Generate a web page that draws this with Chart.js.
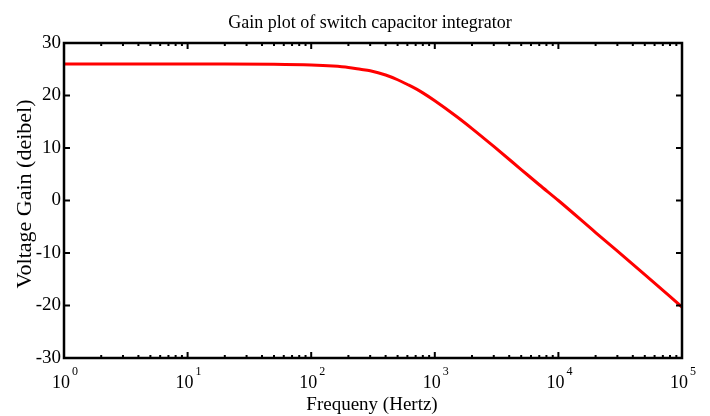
<!DOCTYPE html>
<html>
<head>
<meta charset="utf-8">
<script src="https://cdn.jsdelivr.net/npm/chart.js@4/dist/chart.umd.min.js"></script>
<style>
  body { margin: 0; background: #fff; }
</style>
</head>
<body>
<canvas id="gain" width="710" height="416"></canvas>
<script>
// values
const freq = [1, 2, 5, 10, 20, 50, 100, 150, 200, 250, 300, 400, 500, 600, 700, 800,
              1000, 1500, 2000, 3000, 5000, 7000, 10000, 20000, 50000, 100000];
const gain = [26, 26, 26, 26, 26, 25.95, 25.8, 25.6, 25.35, 25.0, 24.7, 23.9, 23.0, 22.1, 21.3, 20.5,
              19.0, 16.0, 13.7, 10.3, 5.9, 3.0, 0.0, -6.1, -14.1, -20.3];
const yTicks = [-30, -20, -10, 0, 10, 20, 30];
const xDecades = [0, 1, 2, 3, 4, 5];

const serif = "'Liberation Serif', 'Times New Roman', serif";

const frame = {
  id: 'frame',
  afterDraw(chart) {
    const ctx = chart.ctx;
    const a = chart.chartArea;
    const xs = chart.scales.x, ys = chart.scales.y;
    ctx.save();
    ctx.strokeStyle = '#000';
    ctx.lineWidth = 2.5;
    ctx.strokeRect(a.left, a.top, a.right - a.left, a.bottom - a.top);

    // inward ticks
    ctx.lineWidth = 2;
    ctx.beginPath();
    for (let n = 0; n < 5; n++) {
      for (let d = 1; d < 10; d++) {
        const px = xs.getPixelForValue(d * Math.pow(10, n));
        const len = d === 1 ? 6 : 3;
        ctx.moveTo(px, a.bottom); ctx.lineTo(px, a.bottom - len);
        ctx.moveTo(px, a.top); ctx.lineTo(px, a.top + len);
      }
    }
    yTicks.forEach(v => {
      const py = ys.getPixelForValue(v);
      ctx.moveTo(a.left, py); ctx.lineTo(a.left + 6, py);
      ctx.moveTo(a.right, py); ctx.lineTo(a.right - 6, py);
    });
    ctx.stroke();

    // x tick labels 10^n
    ctx.fillStyle = '#000';
    ctx.textBaseline = 'alphabetic';
    ctx.textAlign = 'left';
    xDecades.forEach(n => {
      const px = xs.getPixelForValue(Math.pow(10, n));
      ctx.font = '18px ' + serif;
      const w1 = ctx.measureText('10').width;
      ctx.font = '12px ' + serif;
      const w2 = ctx.measureText(String(n)).width;
      const start = px - (w1 + w2 + 2) / 2 + 1;
      ctx.font = '18px ' + serif;
      ctx.fillText('10', start, 388);
      ctx.font = '12px ' + serif;
      ctx.fillText(String(n), start + w1 + 2, 375);
    });

    // titles
    ctx.textAlign = 'center';
    ctx.font = '18px ' + serif;
    ctx.fillText('Gain plot of switch capacitor integrator', 370, 28);
    ctx.font = '19px ' + serif;
    ctx.fillText('Frequeny (Hertz)', 372, 410);
    ctx.translate(25, 194);
    ctx.rotate(-Math.PI / 2);
    ctx.textBaseline = 'middle';
    ctx.font = '22px ' + serif;
    ctx.fillText('Voltage Gain (deibel)', 0, 0);
    ctx.restore();
  }
};

new Chart(document.getElementById('gain'), {
  type: 'line',
  data: {
    datasets: [{
      data: freq.map((f, i) => ({ x: f, y: gain[i] })),
      borderColor: 'rgb(255, 0, 0)',
      borderWidth: 3,
      pointRadius: 0,
      cubicInterpolationMode: 'monotone',
      fill: false
    }]
  },
  options: {
    responsive: false,
    animation: false,
    layout: { padding: { top: 43, right: 28, left: 0, bottom: 0 } },
    plugins: { legend: { display: false }, title: { display: false }, tooltip: { enabled: false } },
    scales: {
      x: {
        type: 'logarithmic',
        min: 1,
        max: 100000,
        grid: { display: false, drawTicks: false },
        border: { display: false },
        ticks: { display: false },
        afterFit: s => { s.height = 58; }
      },
      y: {
        min: -30,
        max: 30,
        afterBuildTicks: s => { s.ticks = yTicks.map(v => ({ value: v })); },
        grid: { display: false, drawTicks: false },
        border: { display: false },
        ticks: { color: '#000', padding: 3, font: { family: serif, size: 19 } },
        afterFit: s => { s.width = 64; }
      }
    }
  },
  plugins: [frame]
});
</script>
</body>
</html>
